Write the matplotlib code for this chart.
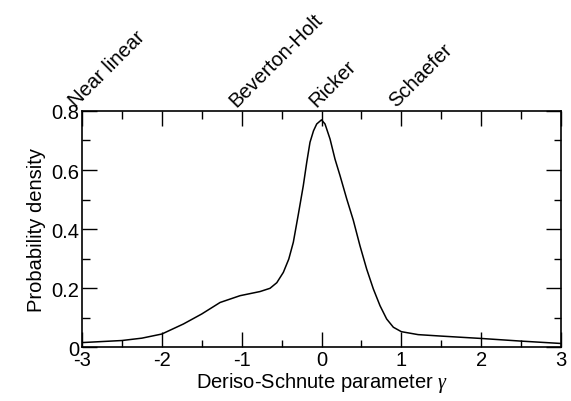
import numpy as np
import matplotlib
matplotlib.use("Agg")
import matplotlib.pyplot as plt
from matplotlib.ticker import MultipleLocator, FuncFormatter

plt.rcParams['font.family'] = ['Liberation Sans', 'DejaVu Sans']
plt.rcParams['mathtext.fontset'] = 'custom'
plt.rcParams['mathtext.it'] = 'Liberation Serif:italic'

# density curve
gamma = [-3.0, -2.5, -2.25, -2.0, -1.73, -1.5, -1.27, -1.02, -0.77, -0.645,
         -0.56, -0.478, -0.41, -0.353, -0.29, -0.228, -0.185, -0.144,
         -0.10, -0.06, 0.0, 0.044, 0.107, 0.169, 0.232, 0.316, 0.398, 0.482,
         0.566, 0.649, 0.733, 0.816, 0.90, 1.0, 1.21, 1.5, 2.0, 2.5, 3.0]
density = [0.015, 0.022, 0.030, 0.044, 0.078, 0.112, 0.151, 0.174, 0.188, 0.199,
           0.218, 0.253, 0.298, 0.355, 0.450, 0.547, 0.626, 0.694,
           0.733, 0.756, 0.770, 0.756, 0.705, 0.637, 0.581, 0.502, 0.430, 0.343,
           0.264, 0.197, 0.140, 0.095, 0.067, 0.052, 0.042, 0.037, 0.029, 0.020, 0.012]

# model labels along the top axis
model_pos = [-3, -1, 0, 1]
model_names = ["Near linear", "Beverton-Holt", "Ricker", "Schaefer"]

fig = plt.figure(figsize=(5.71, 4.02), dpi=100)
ax = fig.add_axes([0.1436, 0.1343, 0.8389, 0.5871])

ax.plot(gamma, density, color='black', lw=1.1)

ax.set_xlim(-3, 3)
ax.set_ylim(0, 0.8)
ax.xaxis.set_major_locator(MultipleLocator(1))
ax.xaxis.set_minor_locator(MultipleLocator(0.5))
ax.yaxis.set_major_locator(MultipleLocator(0.2))
ax.yaxis.set_minor_locator(MultipleLocator(0.1))
fmt = FuncFormatter(lambda v, p: '%g' % round(v, 3))
ax.xaxis.set_major_formatter(fmt)
ax.yaxis.set_major_formatter(fmt)

ax.tick_params(which='both', direction='in', top=True, right=True,
               labelsize=14.5, width=1.0, pad=2)
ax.tick_params(which='major', length=10.8)
ax.tick_params(which='minor', length=5.4)
for s in ax.spines.values():
    s.set_linewidth(1.2)

ax.set_xlabel('Deriso-Schnute parameter $\\it{\\gamma}$', fontsize=14.5, labelpad=1)
ax.set_ylabel('Probability density', fontsize=14.5, labelpad=4)

for x, name in zip(model_pos, model_names):
    ax.annotate(name, xy=(x, 1.0), xycoords=('data', 'axes fraction'),
                xytext=(-4, 3), textcoords='offset points',
                rotation=45, rotation_mode='anchor', ha='left', va='baseline',
                fontsize=14.5)

fig.savefig('out.png', dpi=100)
